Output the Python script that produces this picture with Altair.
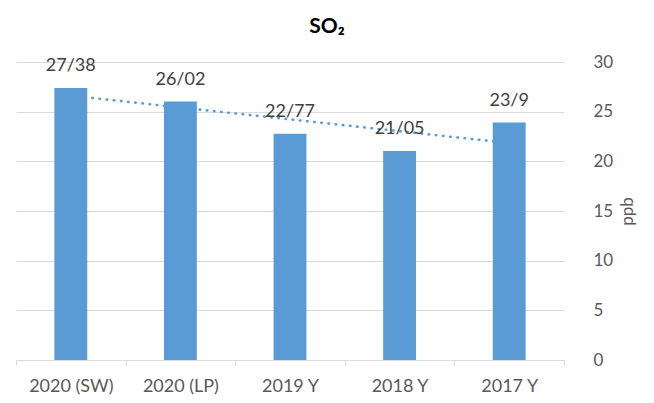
import altair as alt
import pandas as pd

categories = ["2020 (SW)", "2020 (LP)", "2019 Y", "2018 Y", "2017 Y"]
values = [27.38, 26.02, 22.77, 21.05, 23.9]
labels = ["27/38", "26/02", "22/77", "21/05", "23/9"]
order = [1, 2, 3, 4, 5]
y_ticks = [0, 5, 10, 15, 20, 25, 30]

df = pd.DataFrame({"cat": categories, "value": values, "label": labels, "idx": order})

FONT = "Lato"
BAR = "#5b9bd5"
GRID = "#d9d9d9"

x_enc = alt.X(
    "cat:N",
    sort=categories,
    scale=alt.Scale(paddingInner=0, paddingOuter=0),
    axis=alt.Axis(
        title=None,
        tickBand="extent",
        labelAngle=0,
        labelFont=FONT,
        labelFontSize=18,
        labelColor="#595959",
        labelPadding=12,
        domainColor=GRID,
        tickColor=GRID,
        tickSize=5,
        grid=False,
    ),
)
y_enc = alt.Y(
    "value:Q",
    scale=alt.Scale(domain=[0, 30], nice=False),
    axis=alt.Axis(
        orient="right",
        values=y_ticks,
        title="ppb",
        titleAngle=270,
        titleFont=FONT,
        titleFontSize=17,
        titleFontWeight="normal",
        titleColor="#595959",
        titlePadding=24,
        labelFont=FONT,
        labelFontSize=17,
        labelColor="#595959",
        labelPadding=29,
        labelAlign="left",
        domain=False,
        ticks=False,
        grid=True,
        gridColor=GRID,
    ),
)

base = alt.Chart(df)

trend = (
    base.transform_regression("idx", "value")
    .transform_lookup(
        lookup="idx",
        from_=alt.LookupData(data=df, key="idx", fields=["cat"]),
    )
    .mark_line(color=BAR, strokeWidth=2.6, strokeDash=[0.5, 6.7], strokeCap="round")
    .encode(x=x_enc, y=y_enc)
)

bars = base.mark_bar(color=BAR, width=alt.RelativeBandSize(0.3)).encode(x=x_enc, y=y_enc)

text = base.mark_text(
    baseline="bottom", dy=-13, font=FONT, fontSize=18, color="#404040"
).encode(x=x_enc, y=y_enc, text="label:N")

chart = (
    alt.layer(trend, bars, text)
    .properties(
        width=548,
        height=298,
        autosize=alt.AutoSizeParams(type="none"),
        padding={"left": 8, "top": 54, "right": 82, "bottom": 35},
        title=alt.TitleParams(
            "SO₂",
            font=FONT,
            fontSize=21,
            fontWeight="bold",
            color="#000000",
            anchor="middle",
            frame="group",
            dx=37,
            offset=16,
        ),
    )
    .configure_view(stroke=None)
)

chart.save("out.html", embed_options={"renderer": "svg", "actions": False})
